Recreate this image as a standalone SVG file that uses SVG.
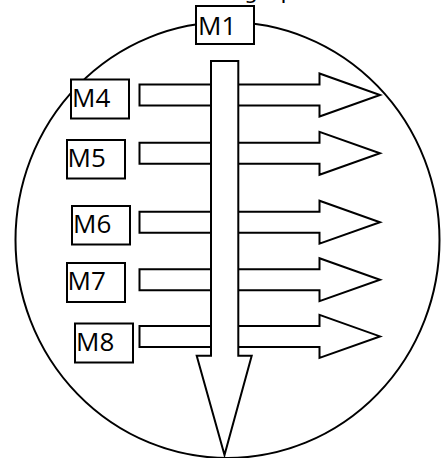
<svg xmlns="http://www.w3.org/2000/svg" width="443" height="458" viewBox="0 0 443 458">
<defs>
<style>
.ln{fill:none;stroke:#000;stroke-width:2}
.sh{fill:#fff;stroke:#000;stroke-width:2;stroke-linejoin:miter}
.bx{fill:#fff;stroke:#000;stroke-width:2}
.lb{font-family:"Open Sans","Noto Sans",sans-serif;font-size:26px;fill:#000}
</style>
<path id="harrow" d="M139.5,-10.5 H319.5 V-21.5 L380,0 L319.5,21.5 V10.5 H139.5 Z"/>
</defs>
<text class="lb" x="244" y="-1" style="font-family:'DejaVu Sans',sans-serif;font-size:22px">graph</text>
<ellipse id="boundary" class="ln" cx="227.5" cy="240" rx="212" ry="218"/>
<g id="connectors">
<use href="#harrow" class="sh" y="95"/>
<use href="#harrow" class="sh" y="153.3"/>
<use href="#harrow" class="sh" y="222.2"/>
<use href="#harrow" class="sh" y="279.7"/>
<use href="#harrow" class="sh" y="336.4"/>
<path class="sh" d="M211,61 H238.3 V355.7 H251.7 L224.5,455 L196.7,355.7 H211 Z"/>
</g>
<g id="M1"><rect class="bx" x="196" y="6" width="58" height="38"/><text class="lb" x="198" y="34.5">M1</text></g>
<g id="M4"><rect class="bx" x="71" y="79.5" width="58" height="39"/><text class="lb" x="72" y="106.5">M4</text></g>
<g id="M5"><rect class="bx" x="67" y="140" width="58" height="38.5"/><text class="lb" x="67.5" y="167">M5</text></g>
<g id="M6"><rect class="bx" x="72" y="206" width="58" height="38.5"/><text class="lb" x="73" y="233">M6</text></g>
<g id="M7"><rect class="bx" x="67" y="263" width="58" height="39"/><text class="lb" x="67.5" y="290">M7</text></g>
<g id="M8"><rect class="bx" x="75" y="323.5" width="58" height="39"/><text class="lb" x="76" y="350.5">M8</text></g>
</svg>
